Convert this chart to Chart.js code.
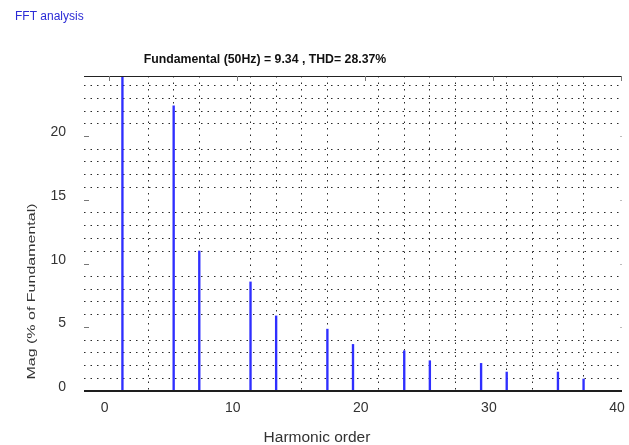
<!DOCTYPE html>
<html>
<head>
<meta charset="utf-8">
<script src="https://cdn.jsdelivr.net/npm/chart.js@4/dist/chart.umd.min.js"></script>
<style>
  html, body { margin: 0; padding: 0; background: #fff; }
  #wrap { width: 629px; height: 445px; position: relative; }
</style>
</head>
<body>
<div id="wrap"><canvas id="c" width="629" height="445"></canvas></div>
<script>
// Harmonic spectrum (% of fundamental)
const harmonicOrders = [1, 5, 7, 11, 13, 17, 19, 23, 25, 29, 31, 35, 37];
const magnitudes     = [100, 22.4, 11.0, 8.57, 5.9, 4.86, 3.66, 3.16, 2.38, 2.17, 1.49, 1.49, 0.94];

// Axis ranges and labelled ticks
const xRange = [-2, 40];
const yRange = [0, 24.75];
const xTickLabels = [0, 10, 20, 30, 40];
const yTickLabels = [0, 5, 10, 15, 20];
const xMinorStep = 2;
const yMinorStep = 1;

// Texts
const windowTitle = 'FFT analysis';
const plotTitle = 'Fundamental (50Hz) = 9.34 , THD= 28.37%';
const xTitle = 'Harmonic order';
const yTitle = 'Mag (% of Fundamental)';

const FONT = '"Liberation Sans", Arial, Helvetica, sans-serif';
const DOT = '#2a2a2a';

function stepTicks(lo, hi, step) {
  const out = [];
  for (let v = Math.ceil(lo / step) * step; v <= hi + 1e-9; v += step) out.push({ value: v });
  return out;
}

// Frame lines, inward tick marks and free-standing texts
const decorations = {
  id: 'decorations',
  afterDatasetsDraw(chart) {
    const { ctx, chartArea: a, scales } = chart;
    const xs = scales.x, ys = scales.y;
    ctx.save();
    // top frame line
    ctx.strokeStyle = '#222';
    ctx.lineWidth = 1;
    ctx.beginPath();
    ctx.moveTo(a.left, a.top + 0.5);
    ctx.lineTo(a.right, a.top + 0.5);
    ctx.stroke();
    // bottom axis line
    ctx.strokeStyle = '#1e1e1e';
    ctx.lineWidth = 2;
    ctx.beginPath();
    ctx.moveTo(a.left, a.bottom);
    ctx.lineTo(a.right, a.bottom);
    ctx.stroke();
    // tick marks pointing into the plot
    ctx.lineWidth = 1;
    ctx.strokeStyle = '#777';
    xTickLabels.forEach(v => {
      const px = Math.round(xs.getPixelForValue(v)) - 0.5;
      ctx.beginPath();
      ctx.moveTo(px, a.top);
      ctx.lineTo(px, a.top + 5);
      ctx.stroke();
    });
    yTickLabels.forEach(v => {
      if (v === 0) return;
      const py = Math.round(ys.getPixelForValue(v)) + 0.5;
      ctx.strokeStyle = '#777';
      ctx.beginPath();
      ctx.moveTo(a.left, py);
      ctx.lineTo(a.left + 5, py);
      ctx.stroke();
      ctx.strokeStyle = '#bbb';
      ctx.beginPath();
      ctx.moveTo(a.right - 2, py);
      ctx.lineTo(a.right, py);
      ctx.stroke();
    });
    ctx.restore();

    ctx.save();
    ctx.fillStyle = '#2b2bd6';
    ctx.font = '12px ' + FONT;
    ctx.textAlign = 'left';
    ctx.textBaseline = 'alphabetic';
    ctx.fillText(windowTitle, 15, 20);

    ctx.fillStyle = '#111';
    ctx.font = 'bold 12.3px ' + FONT;
    ctx.textAlign = 'center';
    ctx.fillText(plotTitle, 265, 62.5);

    ctx.fillStyle = '#333';
    ctx.font = '15.5px ' + FONT;
    ctx.fillText(xTitle, 317, 442);

    // vertical axis title, stretched along its reading direction
    ctx.translate(35, 291.5);
    ctx.rotate(-Math.PI / 2);
    ctx.scale(1.6, 1);
    ctx.font = '10px ' + FONT;
    ctx.fillText(yTitle, 0, 0);
    ctx.restore();
  }
};

new Chart(document.getElementById('c'), {
  type: 'bar',
  data: {
    datasets: [{
      data: harmonicOrders.map((h, i) => ({ x: h, y: magnitudes[i] })),
      backgroundColor: '#2f2fff',
      borderWidth: 0,
      barThickness: 1.7
    }]
  },
  options: {
    responsive: false,
    animation: false,
    devicePixelRatio: 1,
    layout: { padding: { top: 76, right: 7, left: 0, bottom: 0 } },
    plugins: { legend: { display: false }, tooltip: { enabled: false }, title: { display: false } },
    scales: {
      x: {
        type: 'linear',
        min: xRange[0],
        max: xRange[1],
        offset: false,
        afterBuildTicks: s => { s.ticks = stepTicks(xRange[0], xRange[1], xMinorStep); },
        afterFit: s => { s.height = 54; s.paddingLeft = 0; s.paddingRight = 0; },
        ticks: {
          autoSkip: false,
          maxRotation: 0,
          padding: 9,
          labelOffset: -5,
          color: '#333',
          font: { family: FONT, size: 14 },
          callback: v => (xTickLabels.includes(v) ? String(v) : '')
        },
        grid: {
          drawTicks: false,
          lineWidth: 1,
          color: c => (c.tick && xTickLabels.includes(c.tick.value) ? 'rgba(0,0,0,0)' : DOT)
        },
        border: { display: false, dash: [1.5, 5] }
      },
      y: {
        min: yRange[0],
        max: yRange[1],
        afterBuildTicks: s => { s.ticks = stepTicks(yRange[0], yRange[1], yMinorStep); },
        afterFit: s => { s.width = 84; s.paddingTop = 0; s.paddingBottom = 0; },
        ticks: {
          autoSkip: false,
          padding: 18,
          labelOffset: -4,
          color: '#333',
          font: { family: FONT, size: 14 },
          callback: v => (yTickLabels.includes(v) ? String(v) : '')
        },
        grid: {
          drawTicks: false,
          lineWidth: 1,
          color: c => (c.tick && yTickLabels.includes(c.tick.value) ? 'rgba(0,0,0,0)' : DOT)
        },
        border: { display: false, dash: [1.5, 5] }
      }
    }
  },
  plugins: [decorations]
});
</script>
</body>
</html>
